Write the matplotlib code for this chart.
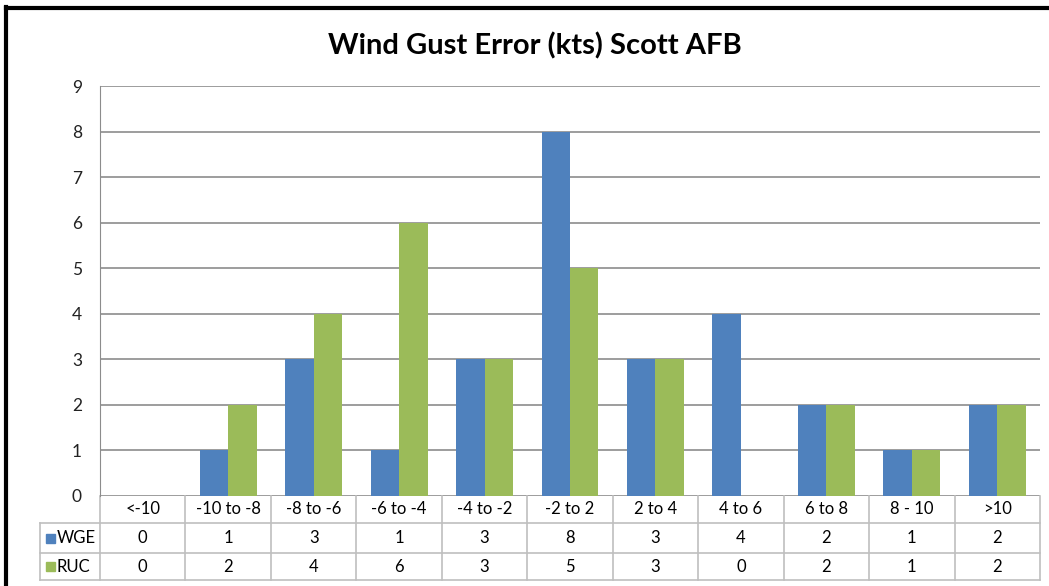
import matplotlib
import matplotlib.pyplot as plt
import matplotlib.transforms as mtransforms
from matplotlib.lines import Line2D
from matplotlib.patches import Rectangle
import numpy as np

matplotlib.use("Agg")

categories = ["<-10", "-10 to -8", "-8 to -6", "-6 to -4", "-4 to -2", "-2 to 2",
              "2 to 4", "4 to 6", "6 to 8", "8 - 10", ">10"]
wge = [0, 1, 3, 1, 3, 8, 3, 4, 2, 1, 2]
ruc = [0, 2, 4, 6, 3, 5, 3, 0, 2, 1, 2]
series_names = ["WGE", "RUC"]
colors = ["#4F81BD", "#9BBB59"]
title = "Wind Gust Error (kts) Scott AFB"

plt.rcParams['font.family'] = ['Lato', 'DejaVu Sans']

W, H = 1049, 586
fig = plt.figure(figsize=(W / 100, H / 100), dpi=100)
ax_left, ax_right, ax_top, ax_bot = 100, 1040, 86, 496
ax = fig.add_axes([ax_left / W, 1 - ax_bot / H, (ax_right - ax_left) / W, (ax_bot - ax_top) / H])

n = len(categories)
x = np.arange(n) + 0.5
bw = 1 / 3
ax.bar(x - bw / 2, wge, width=bw, color=colors[0], zorder=3)
ax.bar(x + bw / 2, ruc, width=bw, color=colors[1], zorder=3)

ax.set_xlim(0, n)
ax.set_ylim(0, 9)
ax.set_yticks(range(10))
ax.set_xticks([])
ax.yaxis.grid(True, color="#8C8C8C", linewidth=1.2)
ax.set_axisbelow(True)
for s in ["top", "right", "bottom"]:
    ax.spines[s].set_visible(False)
ax.spines["left"].set_color("#8C8C8C")
ax.tick_params(axis="y", length=0, pad=13, labelsize=12.5, labelcolor="#222222")

fig.text(535 / W, 1 - 46 / H, title, ha="center", va="center", fontsize=21, fontweight="bold")

# data table below the axis
trans = mtransforms.blended_transform_factory(ax.transData, ax.transAxes)
ah = ax_bot - ax_top
unit = (ax_right - ax_left) / n
rows = [0, -27 / ah, -57 / ah, -84 / ah]
leg_x = -60 / unit
tc = "#BFBFBF"
kw = dict(color=tc, linewidth=1.2, transform=trans, clip_on=False)
for r in rows[1:]:
    ax.add_line(Line2D([leg_x, n], [r, r], **kw))
ax.add_line(Line2D([leg_x, leg_x], [rows[1], rows[3]], **kw))
for i in range(n + 1):
    ax.add_line(Line2D([i, i], [0, rows[3]], **kw))
for i, c in enumerate(categories):
    ax.text(i + 0.5, (rows[0] + rows[1]) / 2, c, transform=trans, ha="center", va="center", fontsize=12)
for j, vals in enumerate([wge, ruc]):
    yc = (rows[j + 1] + rows[j + 2]) / 2
    for i, v in enumerate(vals):
        ax.text(i + 0.5, yc, str(v), transform=trans, ha="center", va="center", fontsize=12)
    ax.add_patch(Rectangle((leg_x + 6 / unit, yc - 4.5 / ah), 9 / unit, 9 / ah, transform=trans,
                           color=colors[j], clip_on=False))
    ax.text(leg_x + 17 / unit, yc, series_names[j], transform=trans, ha="left", va="center", fontsize=12)

# black frame edges on left and top
fig.add_artist(Line2D([6 / W, 6 / W], [0, 1 - 7 / H], color="black", linewidth=3))
fig.add_artist(Line2D([6 / W, 1], [1 - 8 / H, 1 - 8 / H], color="black", linewidth=3))

fig.savefig("out.png", dpi=100)
